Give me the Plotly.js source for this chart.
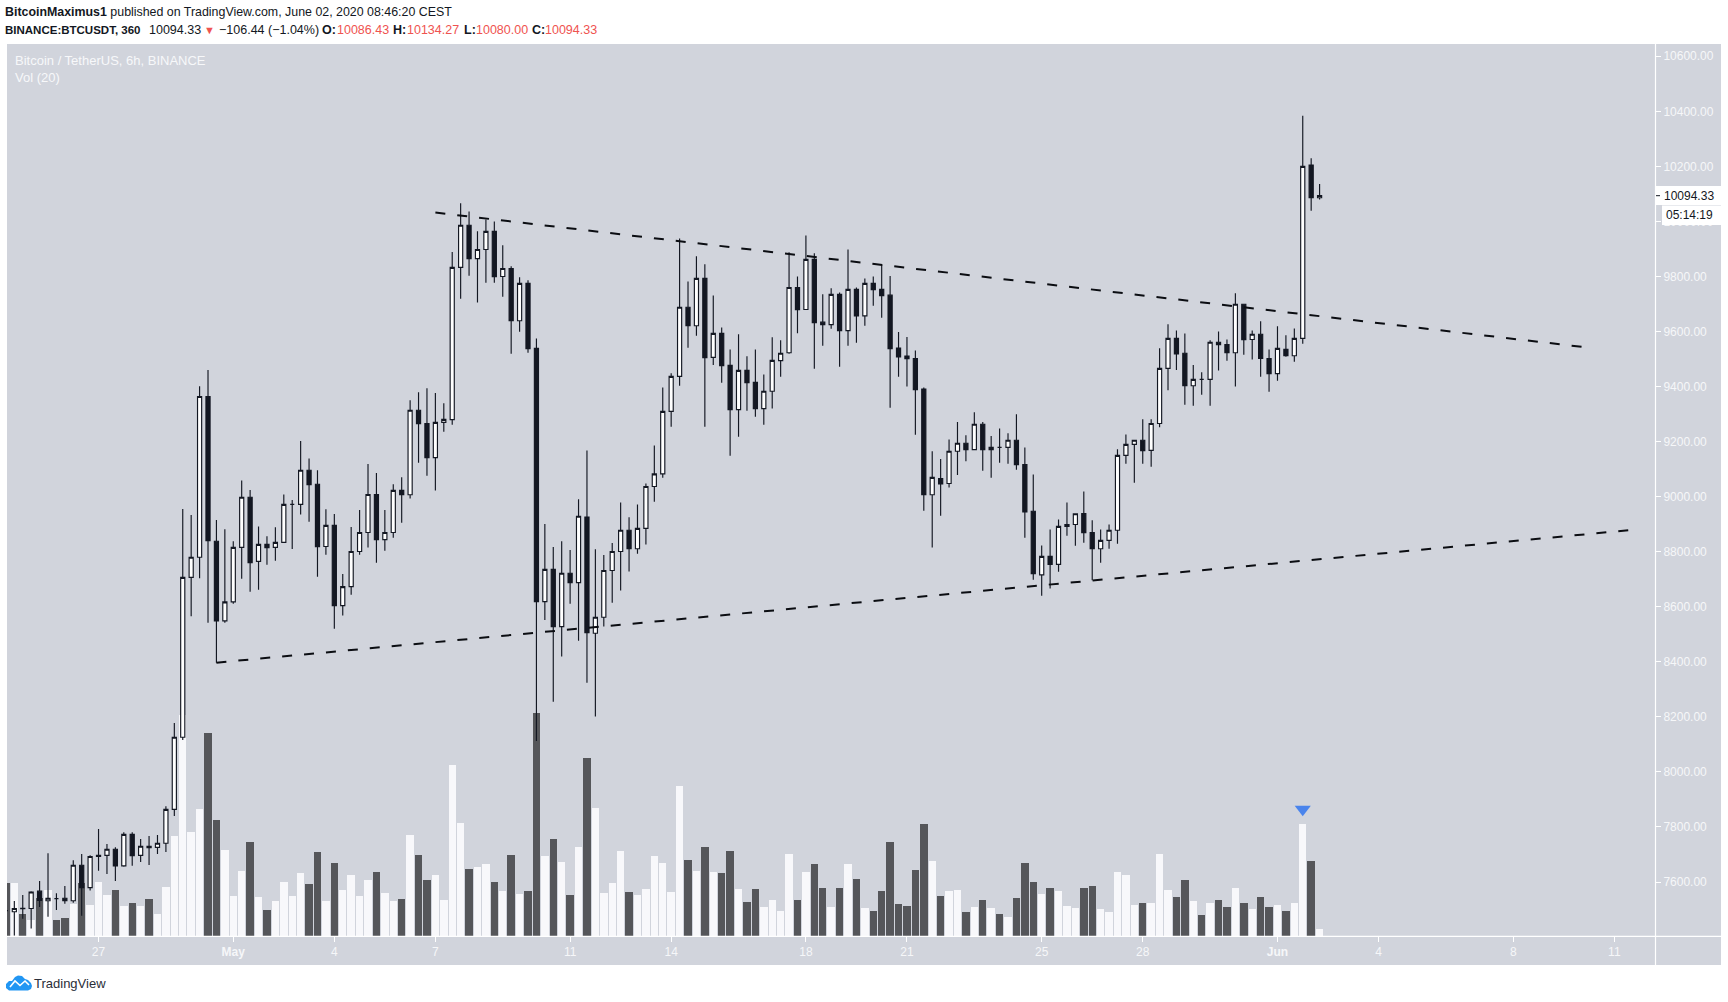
<!DOCTYPE html>
<html><head><meta charset="utf-8">
<script src="https://cdn.plot.ly/plotly-3.0.1.min.js"></script>
<style>html,body{margin:0;padding:0;background:#fff;overflow:hidden}#chart{width:1728px;height:1002px}</style>
</head><body><div id="chart"></div>
<script>
// Candles, index -11 .. 145 (6h bars; index 0 = 27 Apr)
const firstIndex = -11;
const open = [7496,7492,7503,7504,7567,7532,7540,7541,7532,7661,7580,7697,7697,7719,7659,7773,7697,7730,7726,7741,7864,8126,
8707,8780,9364,8838,8549,8618,8816,8998,8765,8827,8816,8834,8972,8972,9096,9045,8819,8896,8604,8673,8801,8870,9008,8844,8870,9023,9007,9314,9266,9142,
9270,9280,9833,9986,9865,9898,9964,9800,9829,9639,9775,9539,8619,8736,8528,8722,8688,8926,8504,8562,8732,8801,8878,8811,8885,9037,9083,9310,9437,9688,9621,9793,9506,9593,9477,9316,9459,9415,9320,9383,9494,9523,9760,9680,9862,9634,9625,9735,9603,9753,9657,9775,
9753,9732,9540,9511,9502,9391,9007,9066,9048,9165,9194,9171,9263,9171,9179,9179,9205,9117,8947,8716,8783,8754,8892,8899,8939,8870,8811,8841,8878,9150,9190,9205,9168,9266,9466,9575,9521,9403,9426,9426,9561,9553,9523,9699,9571,9590,9502,9447,9535,9512,9575,10205,10086];
const close = [7496,7504,7505,7564,7533,7541,7540,7532,7661,7580,7693,7693,7719,7659,7773,7696,7730,7725,7741,7864,8126,8707,
8780,9364,8840,8549,8618,8816,8998,8760,8827,8815,8834,8972,8972,9096,9044,8818,8896,8604,8673,8801,8870,9008,8844,8870,9023,9007,9314,9265,9142,9270,
9281,9833,9986,9865,9898,9964,9799,9829,9639,9775,9538,8619,8736,8528,8722,8688,8929,8506,8562,8732,8801,8878,8811,8885,9037,9083,9310,9437,9688,9621,9793,9505,9593,9476,9316,9459,9414,9320,9383,9495,9521,9760,9679,9862,9632,9625,9735,9603,9753,9657,9775,9752,
9730,9538,9508,9501,9389,9007,9070,9046,9165,9194,9171,9263,9171,9179,9179,9205,9116,8945,8720,8783,8754,8892,8899,8938,8869,8811,8841,8878,9150,9190,9205,9167,9266,9466,9575,9519,9403,9426,9426,9561,9552,9523,9699,9570,9590,9502,9447,9539,9512,9575,10200,10086,10094];
const high = [7500,7531,7553,7567,7604,7705,7559,7586,7679,7702,7697,7793,7738,7726,7781,7781,7756,7767,7771,7875,8178,8955,
8933,9401,9460,8915,8882,8838,9059,9024,8892,8856,8889,9008,8988,9202,9139,9096,8954,8937,8719,8890,8952,9119,9086,8952,9045,9071,9350,9379,9394,9377,
9339,9889,10066,10036,9964,10007,10000,9913,9837,9797,9786,9575,8901,8817,8838,8806,8991,9168,8809,8788,8832,8979,8925,8972,9048,9186,9397,9448,9938,9782,9873,9844,9731,9615,9535,9590,9510,9535,9444,9579,9568,9888,9800,9949,9884,9735,9757,9742,9898,9760,9793,9800,
9842,9802,9598,9580,9531,9397,9165,9137,9208,9271,9223,9307,9271,9220,9248,9230,9299,9179,9081,8823,8881,8917,8979,8938,9019,8914,8881,8899,9172,9226,9205,9281,9281,9539,9626,9604,9593,9478,9452,9568,9600,9571,9739,9699,9604,9637,9535,9619,9586,9611,10384,10229,10136];
const low = [7490,7405,7467,7431,7509,7474,7498,7521,7525,7478,7569,7641,7629,7604,7656,7659,7673,7662,7702,7709,7840,8116,
8566,8704,8542,8397,8542,8611,8702,8655,8662,8753,8767,8834,8810,8935,8909,8709,8789,8520,8568,8644,8789,8815,8760,8804,8851,8905,8993,9123,9076,9022,
9236,9261,9719,9803,9705,9777,9777,9726,9519,9599,9523,8112,8552,8255,8419,8611,8477,8324,8201,8528,8615,8659,8728,8793,8826,8982,9069,9254,9403,9541,9585,9254,9478,9414,9149,9218,9312,9290,9261,9320,9436,9519,9594,9680,9465,9548,9610,9472,9548,9559,9621,9694,
9650,9323,9436,9400,9225,8949,8815,8931,9033,9079,9129,9171,9094,9069,9123,9120,9098,8851,8698,8640,8666,8727,8858,8822,8833,8696,8760,8811,8829,9120,9051,9120,9109,9252,9387,9460,9334,9330,9370,9330,9458,9494,9400,9516,9498,9436,9381,9421,9508,9490,9556,10039,10080];
// Volume (arbitrary units) and whether the bar is drawn light (1) or dark (0)
const volume = [53,53,22,16,38,46,16,18,32,53,31,54,41,46,30,33,30,37,22,49,100,221,
104,127,203,116,86,40,65,94,39,26,35,54,40,63,52,84,35,73,46,61,40,56,64,43,35,37,101,81,56,61,
36,171,113,67,69,72,54,45,81,42,45,223,80,97,74,41,89,178,128,43,53,85,44,41,47,80,73,44,150,76,65,89,64,63,85,47,34,47,29,36,25,82,36,64,72,48,29,48,72,57,28,25,
45,94,32,30,66,112,75,40,45,46,24,29,36,28,22,19,38,73,54,42,48,45,30,28,48,50,27,24,64,61,31,33,33,82,46,39,56,35,21,33,36,29,48,33,27,39,29,31,25,33,112,75,7];
const volumeLight = [0,1,0,1,0,1,0,0,1,0,1,1,1,0,1,0,1,0,1,1,1,1,
1,1,0,0,1,1,1,0,1,0,1,1,1,1,0,0,1,0,1,1,1,1,0,1,1,0,1,0,0,1,
1,1,1,0,1,1,0,1,0,1,0,0,1,0,1,0,1,0,1,1,1,1,0,1,1,1,1,1,1,0,1,0,1,0,0,1,0,0,1,1,1,1,0,1,0,0,1,0,1,0,1,0,
0,0,0,0,0,0,1,0,1,1,0,1,0,1,0,1,0,0,0,1,0,1,1,1,0,0,1,1,1,1,1,0,1,1,1,0,0,1,0,1,0,0,1,0,1,0,0,1,0,1,1,0,1];

const xTickVals = [0,16,28,40,56,68,84,96,112,124,140,152,168,180];
const xTickText = ['27','<b>May</b>','4','7','11','14','18','21','25','28','<b>Jun</b>','4','8','11'];
const priceTicks = [7600,7800,8000,8200,8400,8600,8800,9000,9200,9400,9600,9800,10000,10200,10400,10600];

const upperLineX = [40,176.2], upperLineY = [10032,9544];
const lowerLineX = [14,181.7], lowerLineY = [8397,8878];
const arrowIndex = [143], arrowLevel = [126.7];

const indices = open.map((_, k) => firstIndex + k);
const INK = '#131722', PANEL = '#d1d4dc', AXIS_TEXT = '#f6f7f9', LABEL = '#f7f8fa';
const SANS = '"Liberation Sans", Arial, sans-serif';

// page-pixel helpers for decoration placed outside the plot area
const W = 1648, H = 892;
const px = x => (x - 7) / W, py = y => (936 - y) / H;
const rectPx = (x0,y0,x1,y1,fill,extra) => Object.assign({type:'rect',xref:'paper',yref:'paper',x0:px(x0),x1:px(x1),y0:py(y1),y1:py(y0),fillcolor:fill,line:{width:0}},extra||{});
const pathPx = (pts, fill, line) => ({type:'path',xref:'paper',yref:'paper',layer:'above',
  path:pts.map((p,i)=>(i?'L':'M')+px(p[0])+','+py(p[1])).join(' ')+(fill!=='none'?' Z':''),
  fillcolor:fill,line:line||{width:0}});
const txt = (x,y,text,color,size,font) => ({xref:'paper',yref:'paper',x:px(x),y:py(y),xanchor:'left',yanchor:'middle',showarrow:false,text,
  font:{family:font||SANS,size:size||12,color:color||INK},borderpad:0,borderwidth:0});

const RED = '#ef5350';
const annotations = [
  txt(5,12,'<b>BitcoinMaximus1</b> published on TradingView.com, June 02, 2020 08:46:20 CEST',INK,12.4),
  txt(5,30.5,'<b>BINANCE:BTCUSDT, 360</b>',INK,11.5),
  txt(149,30.5,'10094.33',INK,12.5),
  txt(204,30.5,'▼',RED,11),
  txt(219,30.5,'−106.44 (−1.04%)',INK,12.5),
  txt(322,30.5,'<b>O:</b>',INK,12.5), txt(337,30.5,'10086.43',RED,12.5),
  txt(393,30.5,'<b>H:</b>',INK,12.5), txt(407,30.5,'10134.27',RED,12.5),
  txt(464,30.5,'<b>L:</b>',INK,12.5), txt(475.5,30.5,'10080.00',RED,12.5),
  txt(532,30.5,'<b>C:</b>',INK,12.5), txt(544.5,30.5,'10094.33',RED,12.5),
  txt(15,60,'Bitcoin / TetherUS, 6h, BINANCE',LABEL,13),
  txt(15,77,'Vol (20)',LABEL,13),
  txt(1664,195.7,'10094.33',INK,12),
  txt(1666,215.5,'05:14:19',INK,12),
  txt(34,983.5,'TradingView','#2a2e39',13)
];

const shapes = [
  rectPx(7,44,1721,965,PANEL,{layer:'below'}),
  {type:'line',xref:'paper',yref:'paper',x0:px(1655.5),x1:px(1655.5),y0:py(965),y1:py(44),line:{color:'#ffffff',width:1.2},layer:'above'},
  {type:'line',xref:'paper',yref:'paper',x0:px(7),x1:px(1721),y0:py(936.3),y1:py(936.3),line:{color:'#ffffff',width:1.2},layer:'above'},
  rectPx(1656,186,1721,205,'#ffffff',{layer:'above'}),
  rectPx(1662,205.5,1721,225,'#ffffff',{layer:'above'}),
  {type:'line',xref:'paper',yref:'paper',x0:px(1656),x1:px(1660),y0:py(195.7),y1:py(195.7),line:{color:INK,width:1},layer:'above'},
  // TradingView cloud mark
  pathPx([[6,988],[6,984],[9,981],[12,981],[15,977],[18,975.5],[22,976],[25,979],[28,980],[31,983],[32,986],[31,989],[28,990.5],[9,990.5]],'#2196f3'),
  pathPx([[10,987],[15,981],[20,985.5],[25,981],[29,985]],'none',{color:'#ffffff',width:1.6})
];

const traces = [
  {type:'bar',x:indices,y:volume,yaxis:'y',xaxis:'x',width:0.88,
   marker:{color:volumeLight.map(v=>v?'#f8f8fb':'#55565a'),line:{width:0}},hoverinfo:'skip',showlegend:false},
  {type:'scatter',mode:'markers',x:arrowIndex,y:arrowLevel,yaxis:'y',xaxis:'x',
   marker:{symbol:'triangle-down',size:14,color:'#4a84ec',line:{width:0}},hoverinfo:'skip',showlegend:false},
  {type:'candlestick',x:indices,open,high,low,close,yaxis:'y2',xaxis:'x',width:0.44,whiskerwidth:0,
   increasing:{line:{color:INK,width:1.15},fillcolor:'#ffffff'},
   decreasing:{line:{color:INK,width:1.15},fillcolor:INK},
   hoverinfo:'skip',showlegend:false},
  {type:'scatter',mode:'lines',x:upperLineX,y:upperLineY,yaxis:'y2',xaxis:'x',
   line:{color:'#0b0d12',width:2,dash:'10px,12px'},hoverinfo:'skip',showlegend:false},
  {type:'scatter',mode:'lines',x:lowerLineX,y:lowerLineY,yaxis:'y2',xaxis:'x',
   line:{color:'#0b0d12',width:2,dash:'10px,12px'},hoverinfo:'skip',showlegend:false}
];

const layout = {
  width:1728,height:1002,autosize:false,
  margin:{l:7,r:73,t:44,b:66,pad:0},
  paper_bgcolor:'#ffffff',plot_bgcolor:'rgba(0,0,0,0)',
  showlegend:false,hovermode:false,bargap:0,
  xaxis:{type:'linear',range:[-10.87,184.83],rangeslider:{visible:false},showgrid:false,zeroline:false,showline:false,
    tickmode:'array',tickvals:xTickVals,ticktext:xTickText,ticks:'outside',ticklen:5,tickcolor:'#ffffff',tickwidth:1,
    tickfont:{family:SANS,size:12,color:AXIS_TEXT},fixedrange:true},
  yaxis:{type:'linear',range:[0,892],visible:false,fixedrange:true,showgrid:false,zeroline:false},
  yaxis2:{type:'linear',overlaying:'y',side:'right',anchor:'x',range:[7404,10644.5],showgrid:false,zeroline:false,showline:false,
    tickmode:'array',tickvals:priceTicks,ticktext:priceTicks.map(v=>v.toFixed(2)),ticks:'outside',ticklen:5,tickcolor:'#ffffff',tickwidth:1,
    tickfont:{family:SANS,size:12,color:AXIS_TEXT},fixedrange:true},
  shapes,annotations
};
Plotly.newPlot('chart',traces,layout,{displayModeBar:false,staticPlot:true});
</script></body></html>
